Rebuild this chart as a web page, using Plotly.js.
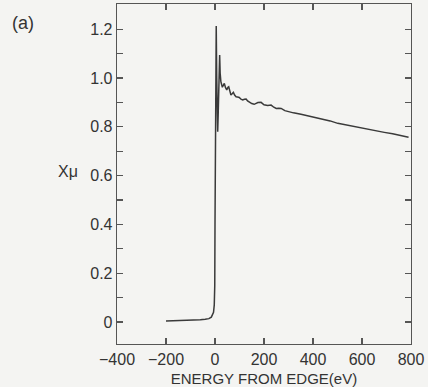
<!DOCTYPE html>
<html>
<head>
<meta charset="utf-8">
<script src="https://cdn.plot.ly/plotly-3.0.1.min.js"></script>
<style>
  html, body { margin: 0; padding: 0; background: #f4f4f2; }
  #chart { width: 428px; height: 387px; }
</style>
</head>
<body>
<div id="chart"></div>
<script>
// Energy relative to the absorption edge (eV)
const energy = [-200, -150, -100, -60, -40, -25, -15, -10, -6, -3, -1, 0, 1, 2, 3, 5, 7, 9, 11, 13, 16, 19, 21, 24,
  30, 35, 38, 43, 48, 53, 56, 61, 65, 70, 75, 80, 86, 92, 99, 106, 113, 120, 127, 133, 140, 150, 160, 175, 188,
  200, 215, 229, 240, 250, 260, 270, 285, 300, 320, 351, 380, 419, 440, 470, 501, 530, 555, 590, 623, 660, 691,
  725, 759, 790];
// Normalized absorption chi-mu
const chiMu = [0.004, 0.005, 0.007, 0.009, 0.011, 0.014, 0.020, 0.028, 0.040, 0.070, 0.15, 0.40, 0.80, 1.05, 1.15,
  1.213, 1.00, 0.82, 0.78, 0.85, 0.98, 1.094, 1.02, 0.985,
  0.962, 0.972, 0.978, 0.960, 0.951, 0.962, 0.964, 0.945, 0.930, 0.935, 0.941, 0.930, 0.923, 0.922, 0.920, 0.913,
  0.910, 0.913, 0.914, 0.906, 0.900, 0.895, 0.892, 0.899, 0.900,
  0.890, 0.887, 0.889, 0.880, 0.875, 0.876, 0.875, 0.866, 0.861, 0.857, 0.851, 0.845, 0.837, 0.833, 0.824, 0.814,
  0.808, 0.803, 0.797, 0.790, 0.783, 0.777, 0.771, 0.764, 0.757];

const xTickVals = [-400, -200, 0, 200, 400, 600, 800];
const yTickVals = [0, 0.2, 0.4, 0.6, 0.8, 1.0, 1.2];
const yTickText = ["0", "0.2", "0.4", "0.6", "0.8", "1.0", "1.2"];

const ink = '#3a3a3a';
const font = { family: 'Liberation Sans, Arial, sans-serif', size: 15, color: '#333' };
const tickFont = { family: 'Liberation Sans, Arial, sans-serif', size: 16, color: '#333' };

const trace = {
  x: energy, y: chiMu, type: 'scatter', mode: 'lines',
  line: { color: ink, width: 1.5, shape: 'linear' },
  hoverinfo: 'skip'
};

const layout = {
  width: 428, height: 387,
  margin: { l: 117, r: 17, t: 4, b: 43 },
  paper_bgcolor: '#f4f4f2', plot_bgcolor: '#f4f4f2',
  font: font,
  showlegend: false,
  xaxis: {
    range: [-400, 800], tickvals: xTickVals,
    ticks: 'inside', ticklen: 6, tickwidth: 1.2, tickcolor: '#555',
    showline: true, linecolor: '#555', linewidth: 1.3, mirror: 'ticks',
    showgrid: false, zeroline: false,
    tickfont: tickFont,
    title: { text: 'ENERGY FROM EDGE(eV)', font: font, standoff: 11 }
  },
  yaxis: {
    range: [-0.09, 1.303], tickvals: yTickVals, ticktext: yTickText,
    ticks: 'inside', ticklen: 6, tickwidth: 1.2, tickcolor: '#555',
    minor: { dtick: 0.1, tick0: 0, ticks: 'inside', ticklen: 6, tickwidth: 1.2, tickcolor: '#555', showgrid: false },
    showline: true, linecolor: '#555', linewidth: 1.3, mirror: 'ticks',
    showgrid: false, zeroline: false,
    tickfont: tickFont
  },
  annotations: [
    { text: 'Xμ', xref: 'paper', yref: 'paper', x: -0.167, y: 0.506, showarrow: false,
      xanchor: 'center', yanchor: 'middle', font: { family: font.family, size: 16, color: '#333' } },
    { text: '(a)', xref: 'paper', yref: 'paper', x: -0.32, y: 0.945, showarrow: false,
      xanchor: 'center', yanchor: 'middle', font: { family: font.family, size: 18, color: '#333' } }
  ]
};

Plotly.newPlot('chart', [trace], layout, { staticPlot: true, displayModeBar: false });
</script>
</body>
</html>
